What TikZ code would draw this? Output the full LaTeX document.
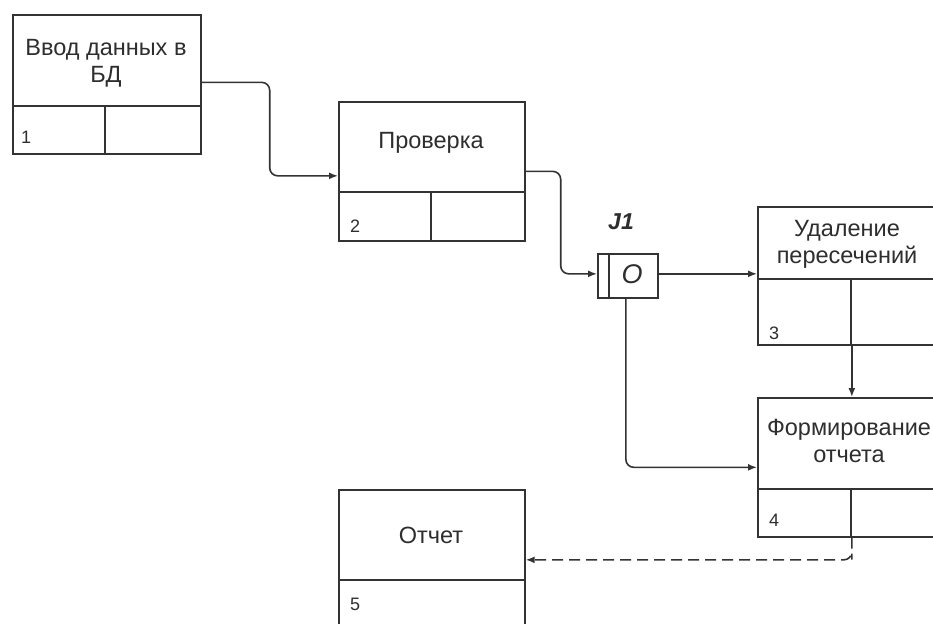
\documentclass[tikz,border=0pt]{standalone}
\usepackage{fontspec}
\setmainfont{Liberation Sans}
\usetikzlibrary{arrows.meta}
\definecolor{ln}{HTML}{333333}
\definecolor{tx}{HTML}{2E2E2E}
\tikzset{
  box/.style={draw=ln, line width=1.7pt, fill=white, anchor=north west, inner sep=0pt},
  lbl/.style={text=tx, font=\fontsize{23.5}{27}\selectfont, align=center, inner sep=0pt},
  num/.style={text=tx, font=\fontsize{18}{20}\selectfont, anchor=west, inner sep=0pt},
  div/.style={draw=ln, line width=1.7pt},
  arr/.style={draw=ln, line width=1.6pt, rounded corners=8pt, -{Latex[length=9pt,width=7pt]}},
  darr/.style={arr, dash pattern=on 11pt off 6pt}
}
\begin{document}
\begin{tikzpicture}[x=1pt,y=-1pt]
\useasboundingbox (0,0) rectangle (933,623);
\clip (0,0) rectangle (933,623);
\fill[white] (0,0) rectangle (933,623);
% boxes
\node[box, minimum width=188pt, minimum height=139pt] (b1) at (12,14) {};
\node[box, minimum width=186pt, minimum height=139pt] (b2) at (338,101) {};
\node[box, minimum width=188pt, minimum height=138pt] (b3) at (757,206) {};
\node[box, minimum width=188pt, minimum height=139pt] (b4) at (757,397) {};
\node[box, minimum width=186pt, minimum height=160pt] (b5) at (338,489) {};
\node[box, minimum width=60pt, minimum height=44pt] (j1) at (597,253) {};
% dividers
\draw[div] (12,106) -- (200,106) (105,106) -- (105,153);
\draw[div] (338,192) -- (524,192) (431,192) -- (431,240);
\draw[div] (757,279) -- (945,279) (851,279) -- (851,344);
\draw[div] (757,489) -- (945,489) (851,489) -- (851,536);
\draw[div] (338,580) -- (524,580);
\draw[div] (609,253) -- (609,297);
% texts
\node[lbl] (t1) at (106,63) {Ввод данных в\\БД};
\node[lbl] (t2) at (431,143) {Проверка};
\node[lbl] (t3) at (847,244) {Удаление\\пересечений};
\node[lbl] (t4) at (849,441) {Формирование\\отчета};
\node[lbl] (t5) at (431,535) {Отчет};
\node[num] (n1) at (21,137) {1};
\node[num] (n2) at (350,226) {2};
\node[num] (n3) at (769,333) {3};
\node[num] (n4) at (769,520) {4};
\node[num] (n5) at (350,604) {5};
\node[text=tx, font=\fontsize{23}{25}\selectfont\bfseries\itshape, inner sep=0pt] (jl) at (621,222) {J1};
\node[text=tx, font=\fontsize{27}{29}\selectfont\itshape, inner sep=0pt] (jo) at (632,274) {O};
% connectors
\draw[arr] ([yshift=2pt]b1.east) -- ++(68,0) |- ([yshift=-4.5pt]b2.west);
\draw[arr] (b2.east) -- ++(35,0) |- ([yshift=2pt]j1.west);
\draw[arr] ([yshift=2pt]j1.east) -- ([yshift=2pt]j1.east -| b3.west);
\draw[arr] ([xshift=-2pt]j1.south) |- (b4.west);
\draw[arr] (b3.south) -- (b4.north);
\draw[darr] (b4.south) -- ++(0,14) |- ([yshift=10pt]b5.east);
\end{tikzpicture}
\end{document}
